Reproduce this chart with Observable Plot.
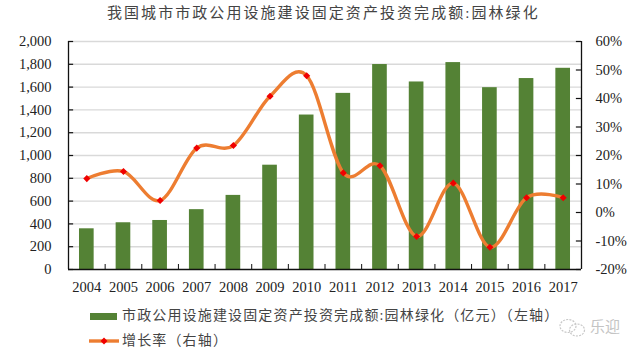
<!DOCTYPE html>
<html><head><meta charset="utf-8">
<script src="https://cdn.jsdelivr.net/npm/d3@7"></script>
<script src="https://cdn.jsdelivr.net/npm/@observablehq/plot@0.6"></script>
<style>
html,body{margin:0;padding:0;background:#fff;width:640px;height:354px;overflow:hidden}
body{position:relative;font-family:"Liberation Serif","Noto Sans CJK SC",serif}
#title{position:absolute;left:107px;top:3px;font-size:15px;line-height:20px;letter-spacing:2.06px;color:#444;white-space:nowrap}
#chart{position:absolute;left:0;top:31px}
.lg{position:absolute;left:122px;font-size:14px;line-height:18px;letter-spacing:1.15px;color:#444;white-space:nowrap}
.wm{position:absolute;left:590px;top:317px;font-size:15px;line-height:18px;color:#c4c4c4;font-family:"Noto Sans CJK SC"}
svg.k{position:absolute;overflow:visible}
</style></head><body>
<div id="title"></div>
<div id="chart"></div>
<svg class="k" style="left:90px;top:313px" width="28" height="8"><rect width="27" height="7" fill="#548235"/></svg>
<div class="lg" id="l1" style="top:307px"></div>
<svg class="k" style="left:88px;top:335px" width="32" height="12"><line x1="1" x2="31" y1="6" y2="6" stroke="#ED7D31" stroke-width="3.4"/><path d="M16 2.5L19.5 6L16 9.5L12.5 6Z" fill="#f00000"/></svg>
<div class="lg" id="l2" style="top:332px"></div>
<svg class="k" style="left:559px;top:318px" width="30" height="20" fill="none" stroke="#c8c8c8" stroke-width="1.2" stroke-dasharray="2 1.2"><ellipse cx="9" cy="8" rx="8" ry="6.5"/><ellipse cx="18" cy="12" rx="7.5" ry="6"/></svg>
<div class="wm">乐迎</div>
<script>
const titleText = "我国城市市政公用设施建设固定资产投资完成额:园林绿化";
const barLabel = "市政公用设施建设固定资产投资完成额:园林绿化（亿元）（左轴）";
const lineLabel = "增长率（右轴）";
const years = [2004,2005,2006,2007,2008,2009,2010,2011,2012,2013,2014,2015,2016,2017];
const investment = [357,410,430,525,650,915,1355,1545,1798,1645,1815,1595,1675,1765];
const growth = [11.9,14.4,4.2,22.6,23.5,40.8,48,13.9,16.4,-8.4,10.3,-12.2,5.2,5.2];
const leftTicks = [0,200,400,600,800,1000,1200,1400,1600,1800,2000];
const rightTicks = [-20,-10,0,10,20,30,40,50,60];

document.getElementById("title").textContent = titleText;
document.getElementById("l1").textContent = barLabel;
document.getElementById("l2").textContent = lineLabel;

const toLeft = p => (p + 20) * 25;
const bars = years.map((year,i)=>({year, value:investment[i]}));
const rates = years.map((year,i)=>({year, value:toLeft(growth[i])}));
const x0 = years[0]-0.5, x1 = years[years.length-1]+0.5;
const boundaries = d3.range(x0, x1+1);
const ink = "#222";

const plot = Plot.plot({
  width:640, height:269,
  marginLeft:68, marginRight:59, marginTop:10, marginBottom:31,
  style:{fontFamily:'"Liberation Serif","Noto Sans CJK SC",serif', fontSize:"14.5px", color:ink, background:"transparent"},
  x:{domain:[x0,x1]},
  y:{domain:[0,2000]},
  marks:[
    Plot.ruleY(leftTicks.slice(1),{stroke:"#d9d9d9",strokeWidth:1.4}),
    Plot.rectY(bars,{x1:d=>d.year-0.2,x2:d=>d.year+0.2,y1:0,y2:"value",fill:"#548235"}),
    Plot.ruleX([x0,x1],{stroke:"#111",strokeWidth:1.3}),
    Plot.ruleY([0],{stroke:"#111",strokeWidth:1.3}),
    Plot.ruleY(leftTicks,{x1:x0,x2:x0+0.14,stroke:"#111",strokeWidth:1.2}),
    Plot.ruleY(rightTicks.map(toLeft),{x1:x1-0.14,x2:x1,stroke:"#111",strokeWidth:1.2}),
    Plot.axisX({ticks:boundaries,tickFormat:()=>"",tickSize:-5,stroke:"#111",label:null}),
    Plot.axisX({ticks:years,tickFormat:d=>String(d),tickSize:0,tickPadding:12,label:null,fill:ink}),
    Plot.axisY({ticks:leftTicks,tickFormat:d3.format(","),tickSize:0,tickPadding:17,label:null,fill:ink}),
    Plot.axisY({anchor:"right",ticks:rightTicks.map(toLeft),tickFormat:d=>`${d/25-20}%`,tickSize:0,tickPadding:14,label:null,fill:ink}),
    Plot.line(rates,{x:"year",y:"value",curve:"cardinal",stroke:"#ED7D31",strokeWidth:3.4}),
    Plot.dot(rates,{x:"year",y:"value",symbol:"diamond2",r:3.2,fill:"#f00000",stroke:"none"})
  ]
});
document.getElementById("chart").appendChild(plot);
</script>
</body></html>
